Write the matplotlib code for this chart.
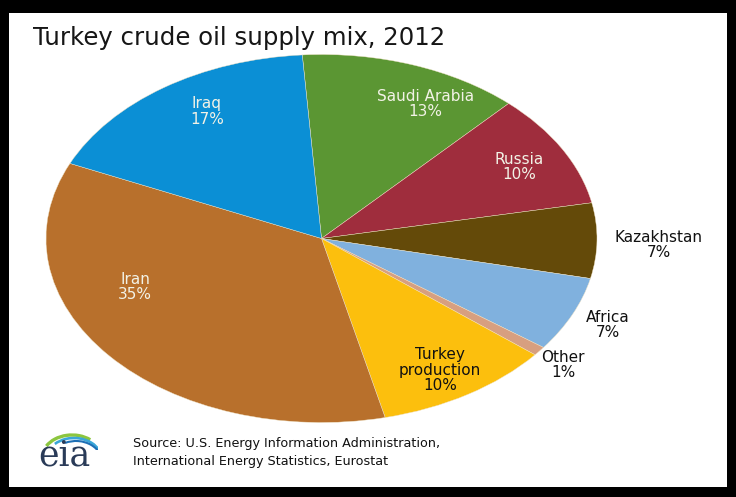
import matplotlib
matplotlib.use("Agg")
import matplotlib.pyplot as plt
from matplotlib.patches import Rectangle, Arc

# ---- data ----
categories = ["Saudi Arabia", "Russia", "Kazakhstan", "Africa", "Other",
              "Turkey production", "Iran", "Iraq"]
shares = [13, 10, 6.6, 6.6, 0.8, 10.4, 35.4, 17.2]
label_texts = ["Saudi Arabia\n13%", "Russia\n10%", "Kazakhstan\n7%", "Africa\n7%",
               "Other\n1%", "Turkey\nproduction\n10%", "Iran\n35%", "Iraq\n17%"]
colors = ["#5b9633", "#9f2d3d", "#644a09", "#80b1de", "#d79f80",
          "#fcbf0d", "#b8702c", "#0b8fd5"]
title = "Turkey crude oil supply mix, 2012"
source_lines = ["Source: U.S. Energy Information Administration,",
                "International Energy Statistics, Eurostat"]

# label layout (axes data coords of the stretched pie) and colours
label_pos = [(0.376, 0.731), (0.717, 0.389), (1.225, -0.035), (1.04, -0.47),
             (0.877, -0.687), (0.43, -0.715), (-0.677, -0.264), (-0.416, 0.69)]
label_col = ["#f2f2e6", "#f2f2e6", "#111111", "#111111", "#111111",
             "#111111", "#f2f2e6", "#f2f2e6"]

W, H = 736, 497
fig = plt.figure(figsize=(W / 100, H / 100), dpi=100)
fig.patch.set_facecolor("black")
fig.patches.append(Rectangle((9 / W, 1 - 487 / H), (727 - 9) / W, (487 - 13) / H,
                             transform=fig.transFigure, facecolor="white",
                             edgecolor="none", zorder=-10))

# pie axes (stretched ellipse)
cx, cy, rx, ry = 321.5, 238.5, 275.5, 184
ax = fig.add_axes([(cx - rx) / W, 1 - (cy + ry) / H, 2 * rx / W, 2 * ry / H])
ax.pie(shares, colors=colors, startangle=94, counterclock=False, radius=1,
       wedgeprops=dict(linewidth=0.3, edgecolor="#efe2c4"))
ax.set_aspect("auto")
ax.set_xlim(-1, 1)
ax.set_ylim(-1, 1)
ax.axis("off")

for txt, (x, y), c in zip(label_texts, label_pos, label_col):
    ax.text(x, y, txt, ha="center", va="center", fontsize=11, color=c,
            family="DejaVu Sans", linespacing=1.05, clip_on=False)

# title
fig.text(33 / W, 1 - 38 / H, title, fontsize=17.6, ha="left", va="center",
         color="#161616", family="DejaVu Sans")

# source
fig.text(133 / W, 1 - 443 / H, source_lines[0], fontsize=9.2, ha="left",
         va="center", color="#111111", family="DejaVu Sans")
fig.text(133 / W, 1 - 461 / H, source_lines[1], fontsize=9.2, ha="left",
         va="center", color="#111111", family="DejaVu Sans")

# eia logo
fig.text(64 / W, 1 - 456 / H, "eia", fontsize=25, ha="center", va="center",
         color="#2a3b58", family="DejaVu Serif")
lax = fig.add_axes([36 / W, 1 - 450 / H, 62 / W, 24 / H])
lax.set_xlim(0, 62)
lax.set_ylim(0, 24)
lax.axis("off")
lax.add_patch(Arc((36, -8), 60, 46, theta1=45, theta2=155, color="#8cc63f", lw=2.4))
lax.add_patch(Arc((38, -10), 56, 44, theta1=20, theta2=140, color="#3aa6d8", lw=1.9))
lax.add_patch(Arc((40, -12), 52, 42, theta1=-5, theta2=120, color="#1d6fb5", lw=1.5))

fig.savefig("out.png", dpi=100, facecolor=fig.get_facecolor())
